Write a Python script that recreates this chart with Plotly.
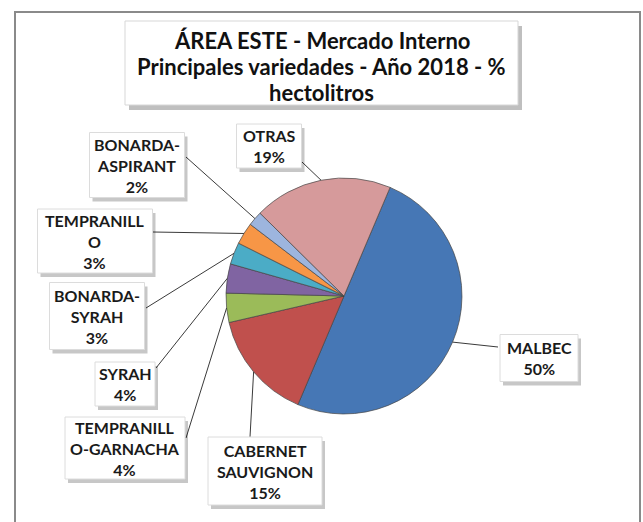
import math
import plotly.graph_objects as go

# ---- data ----
varieties = ["MALBEC", "CABERNET SAUVIGNON", "TEMPRANILLO-GARNACHA", "SYRAH",
             "BONARDA-SYRAH", "TEMPRANILLO", "BONARDA-ASPIRANT", "OTRAS"]
shares = [50, 15, 4, 4, 3, 3, 2, 19]
label_lines = ["MALBEC", "CABERNET<br>SAUVIGNON", "TEMPRANILL<br>O-GARNACHA", "SYRAH",
               "BONARDA-<br>SYRAH", "TEMPRANILL<br>O", "BONARDA-<br>ASPIRANT", "OTRAS"]
title_lines = ["ÁREA ESTE - Mercado Interno",
               "Principales variedades - Año 2018 - %",
               "hectolitros"]

# ---- style / layout ----
W, H = 643, 522
colors = ["#4677B5", "#C0504D", "#9BBB59", "#8064A2", "#4BACC6", "#F79646", "#9DB5DE", "#D69A9B"]
cx, cy, R = 344, 296, 118
rotation = 23
FONT = "Lato"
# label box geometry: center, width, height (pixels) and leader attach point
box_pos = [(539, 358), (265, 471), (125, 448), (125, 384), (97, 316), (95, 241), (137, 165), (269, 146)]
box_w = [78, 114, 120, 60, 95, 115, 95, 65]
box_h = [47, 68, 62, 44, 67, 64, 65, 44]
attach = [(498, 347), (250, 437), (186, 438), (156, 368), (146, 308), (153, 232), (186, 157), (302, 162)]
title_box = (125, 21, 518, 105)
title_y = [40, 66, 92]

fig = go.Figure()
fig.add_trace(go.Pie(
    labels=varieties, values=shares, sort=False, direction="clockwise",
    rotation=rotation, textinfo="none", hoverinfo="label+percent",
    marker=dict(colors=colors, line=dict(color="rgba(70,70,70,0.7)", width=1)),
    domain=dict(x=[(cx - R) / W, (cx + R) / W], y=[(H - cy - R) / H, (H - cy + R) / H]),
    showlegend=False,
))

annotations = []
shapes = [dict(type="rect", xref="x", yref="y", x0=15, y0=12, x1=640, y1=540,
               line=dict(color="#8a8a8a", width=2), layer="above")]

# title box + shadow
tx0, ty0, tx1, ty1 = title_box
shapes.append(dict(type="rect", xref="x", yref="y", x0=tx0 + 4, y0=ty0 + 5, x1=tx1 + 4, y1=ty1 + 5,
                   fillcolor="rgba(0,0,0,0.25)", line=dict(width=0), layer="above"))
shapes.append(dict(type="rect", xref="x", yref="y", x0=tx0, y0=ty0, x1=tx1, y1=ty1,
                   fillcolor="white", line=dict(color="rgba(215,215,215,1)", width=1), layer="above"))
for t, yy in zip(title_lines, title_y):
    annotations.append(dict(
        x=(tx0 + tx1) / 2, y=yy, xref="x", yref="y", showarrow=False, text=f"<b>{t}</b>",
        xanchor="center", yanchor="middle",
        font=dict(family=FONT, size=22, color="#111111")))

total = sum(shares)
start = rotation
for i, v in enumerate(shares):
    span = 360.0 * v / total
    mid = math.radians(start + span / 2)
    start += span
    px = cx + R * math.sin(mid)
    py = cy - R * math.cos(mid)
    bx, by = box_pos[i]
    w, h = box_w[i], box_h[i]
    pct = f"{round(100 * v / total)}%"
    # leader line
    shapes.append(dict(type="line", xref="x", yref="y", x0=px, y0=py,
                       x1=attach[i][0], y1=attach[i][1],
                       line=dict(color="#3a3a3a", width=1), layer="above"))
    # shadow and box
    shapes.append(dict(type="rect", xref="x", yref="y",
                       x0=bx - w / 2 + 3, y0=by - h / 2 + 4, x1=bx + w / 2 + 3, y1=by + h / 2 + 4,
                       fillcolor="rgba(0,0,0,0.22)", line=dict(width=0), layer="above"))
    shapes.append(dict(type="rect", xref="x", yref="y",
                       x0=bx - w / 2, y0=by - h / 2, x1=bx + w / 2, y1=by + h / 2,
                       fillcolor="white", line=dict(color="rgba(220,220,220,1)", width=1), layer="above"))
    annotations.append(dict(
        x=bx, y=by, xref="x", yref="y", showarrow=False,
        xanchor="center", yanchor="middle",
        text=f"<b>{label_lines[i]}<br>{pct}</b>",
        font=dict(family=FONT, size=16, color="#1a1a1a")))

fig.update_layout(
    width=W, height=H, margin=dict(l=0, r=0, t=0, b=0),
    paper_bgcolor="white", plot_bgcolor="rgba(0,0,0,0)",
    xaxis=dict(range=[0, W], visible=False, fixedrange=True),
    yaxis=dict(range=[H, 0], visible=False, fixedrange=True),
    annotations=annotations,
    shapes=shapes,
)

fig.write_html("out.html", config={"displayModeBar": False},
               post_script="document.body.style.margin='0';")
